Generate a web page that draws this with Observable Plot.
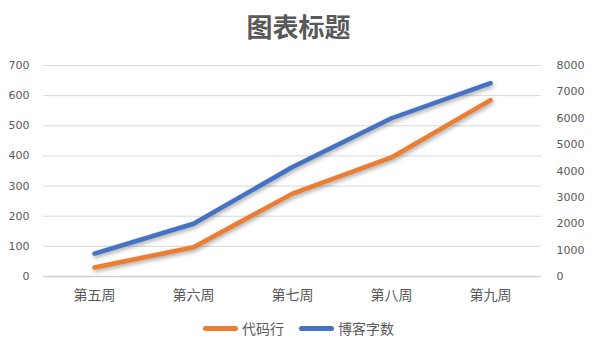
<!DOCTYPE html>
<html>
<head>
<meta charset="utf-8">
<script src="https://cdn.jsdelivr.net/npm/d3@7"></script>
<script src="https://cdn.jsdelivr.net/npm/@observablehq/plot@0.6"></script>
<style>
  html, body { margin: 0; padding: 0; background: #fff; }
  #wrap { position: relative; width: 597px; height: 352px; overflow: hidden; font-family: "Noto Sans CJK SC", sans-serif; }
  #title { position: absolute; left: 0; width: 597px; top: 7px; text-align: center; font-size: 26px; font-weight: bold; color: #595959; }
  #legend { position: absolute; left: 0; width: 597px; top: 318px; display: flex; justify-content: center; gap: 15px; font-size: 14px; color: #595959; }
  #legend span.item { display: flex; align-items: center; }
  #legend span.sw { display: inline-block; width: 35px; height: 5px; border-radius: 3px; margin-right: 4px; }
  .shadow { filter: drop-shadow(1px 2px 2px rgba(0,0,0,0.35)); }
  #chart svg { position: absolute; left: 0; top: 0; }
</style>
</head>
<body>
<div id="wrap">
  <div id="chart"></div>
  <div id="title"></div>
  <div id="legend"></div>
</div>
<script>
const title = "图表标题";
const weeks = ["第五周", "第六周", "第七周", "第八周", "第九周"];
const codeLines = [30, 97, 275, 395, 585];
const blogWords = [870, 2000, 4150, 6000, 7330];
const leftTicks = [0, 100, 200, 300, 400, 500, 600, 700];
const rightTicks = [0, 1000, 2000, 3000, 4000, 5000, 6000, 7000, 8000];
const seriesNames = ["代码行", "博客字数"];
const colors = ["#ED7D31", "#4472C4"];

const leftMax = 700, rightMax = 8000;
const toLeft = v => v * leftMax / rightMax;

const codeData = weeks.map((w, i) => ({week: w, value: codeLines[i]}));
const blogData = weeks.map((w, i) => ({week: w, value: blogWords[i]}));

const numFont = "'DejaVu Sans', sans-serif";

const chart = Plot.plot({
  width: 597,
  height: 352,
  marginLeft: 43,
  marginRight: 56,
  marginTop: 65,
  marginBottom: 76,
  style: {fontFamily: "'Noto Sans CJK SC', sans-serif", fontSize: "12px", color: "#595959", background: "transparent"},
  x: {type: "point", domain: weeks, padding: 0.5, label: null},
  y: {domain: [0, leftMax], label: null},
  marks: [
    Plot.gridY(leftTicks.filter(d => d > 0), {stroke: "#d9d9d9", strokeOpacity: 1, strokeWidth: 1}),
    Plot.ruleY([0], {stroke: "#d0d0d0", strokeWidth: 1.5}),
    Plot.axisY(leftTicks, {anchor: "left", tickSize: 0, tickPadding: 14, label: null, fontSize: 11, fontFamily: numFont}),
    Plot.axisY(rightTicks.map(toLeft), {anchor: "right", tickSize: 0, tickPadding: 15, label: null, fontSize: 11, fontFamily: numFont, tickFormat: d => String(Math.round(d * rightMax / leftMax))}),
    Plot.axisX(weeks, {anchor: "bottom", tickSize: 0, tickPadding: 14, label: null, fontSize: 14}),
    Plot.lineY(codeData, {x: "week", y: "value", stroke: colors[0], strokeWidth: 4.5, strokeLinecap: "round", strokeLinejoin: "round", className: "shadow"}),
    Plot.lineY(blogData, {x: "week", y: d => toLeft(d.value), stroke: colors[1], strokeWidth: 4.5, strokeLinecap: "round", strokeLinejoin: "round", className: "shadow"})
  ]
});
document.getElementById("chart").appendChild(chart);
document.getElementById("title").textContent = title;

const legend = document.getElementById("legend");
seriesNames.forEach((name, i) => {
  const item = document.createElement("span");
  item.className = "item";
  const sw = document.createElement("span");
  sw.className = "sw";
  sw.style.background = colors[i];
  item.appendChild(sw);
  item.appendChild(document.createTextNode(name));
  legend.appendChild(item);
});
</script>
</body>
</html>
